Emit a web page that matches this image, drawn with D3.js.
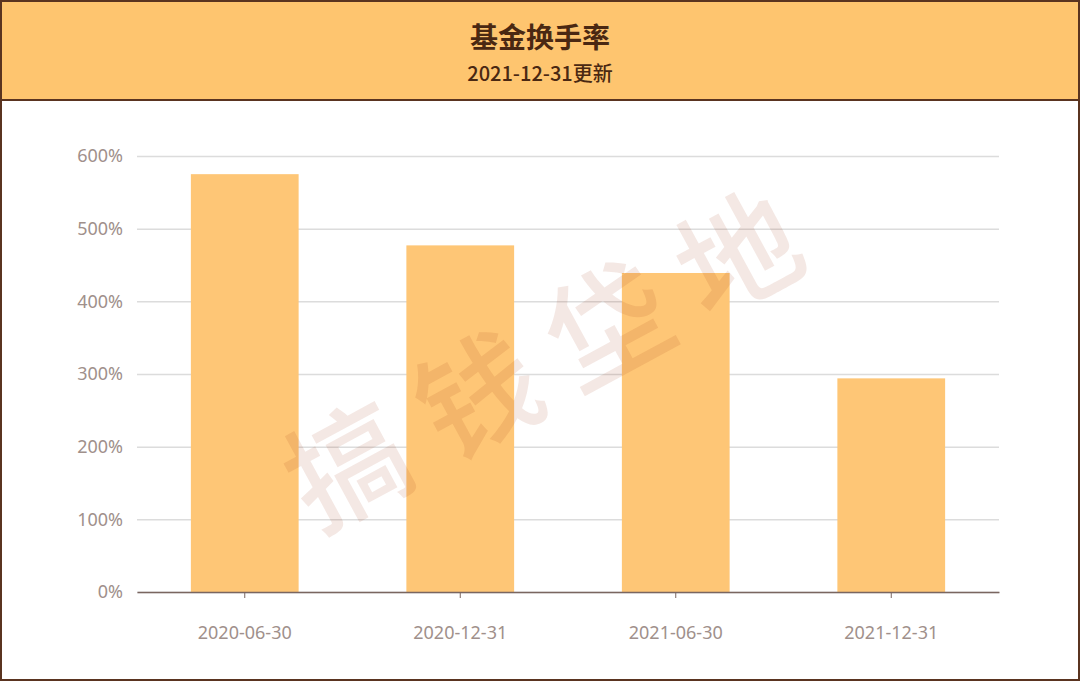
<!DOCTYPE html>
<html>
<head>
<meta charset="utf-8">
<script src="https://cdn.jsdelivr.net/npm/d3@7"></script>
<style>
  html, body { margin: 0; padding: 0; background: #fff; }
  svg { display: block; }
</style>
</head>
<body>
<svg id="chart" width="1080" height="681"></svg>
<script>
// Fund turnover rate by report date
const titleText = "基金换手率";
const subtitleText = "2021-12-31更新";
const categories = ["2020-06-30", "2020-12-31", "2021-06-30", "2021-12-31"];
const turnover = [575, 477, 439, 294];          // percent
const yTicks = [0, 100, 200, 300, 400, 500, 600];
const watermarkText = "搞钱垈地";

const W = 1080, H = 681;
const svg = d3.select("#chart");
const brown = "#5a3420";

// header band
svg.append("rect").attr("x", 1).attr("y", 1).attr("width", W - 2).attr("height", 99)
  .attr("fill", "#fec56f").attr("stroke", brown).attr("stroke-width", 2);

svg.append("text").attr("x", W / 2).attr("y", 48).attr("text-anchor", "middle")
  .attr("font-family", "'Noto Sans CJK SC', sans-serif").attr("font-weight", 700)
  .attr("font-size", 28).attr("fill", "#4a2812").text(titleText);
svg.append("text").attr("x", W / 2).attr("y", 81).attr("text-anchor", "middle")
  .attr("font-family", "'Noto Sans CJK SC', sans-serif").attr("font-weight", 500)
  .attr("font-size", 20).attr("fill", "#4a2812").text(subtitleText);

// plot area
const m = { left: 137, right: 999, top: 156, bottom: 592 };
const x = d3.scaleBand().domain(categories).range([m.left, m.right]).paddingInner(0.5).paddingOuter(0.25);
const y = d3.scaleLinear().domain([0, 600]).range([m.bottom, m.top]);

const labelColor = "#a0908b";
const font = "'Noto Sans', 'Open Sans', sans-serif";

// horizontal grid lines + y labels
const yAxis = d3.axisLeft(y).tickValues(yTicks).tickFormat(d => d + "%")
  .tickSize(-(m.right - m.left)).tickPadding(14);
const gy = svg.append("g").attr("transform", `translate(${m.left},0)`).call(yAxis);
gy.select(".domain").remove();
gy.selectAll(".tick line").attr("stroke", "#dcdcdc").attr("stroke-width", 1.5);
gy.selectAll(".tick text").attr("fill", labelColor).attr("font-family", font).attr("font-size", 18);

// bars
svg.append("g").selectAll("rect").data(categories).join("rect")
  .attr("x", d => x(d))
  .attr("width", x.bandwidth())
  .attr("y", (d, i) => y(turnover[i]))
  .attr("height", (d, i) => y(0) - y(turnover[i]))
  .attr("fill", "#fec676");

// x axis
const xAxis = d3.axisBottom(x).tickSize(6).tickPadding(28).tickSizeOuter(0);
const gx = svg.append("g").attr("transform", `translate(0,${m.bottom})`).call(xAxis);
gx.select(".domain").attr("stroke", "#7a6660").attr("stroke-width", 1.5);
gx.selectAll(".tick line").attr("stroke", "#7a6660");
gx.selectAll(".tick text").attr("fill", labelColor).attr("font-family", font).attr("font-size", 18);

// watermark
const wm = svg.append("g").attr("transform", "translate(552,347) rotate(-28.5)");
wm.append("text").attr("text-anchor", "middle").attr("dominant-baseline", "central")
  .attr("font-family", "'Noto Sans CJK SC', sans-serif").attr("font-weight", 500)
  .attr("font-size", 120).attr("letter-spacing", 28)
  .attr("fill", "rgba(155,47,13,0.11)").text(watermarkText);

// outer frame
svg.append("rect").attr("x", 1).attr("y", 1).attr("width", W - 2).attr("height", H - 2)
  .attr("fill", "none").attr("stroke", brown).attr("stroke-width", 2);
</script>
</body>
</html>
